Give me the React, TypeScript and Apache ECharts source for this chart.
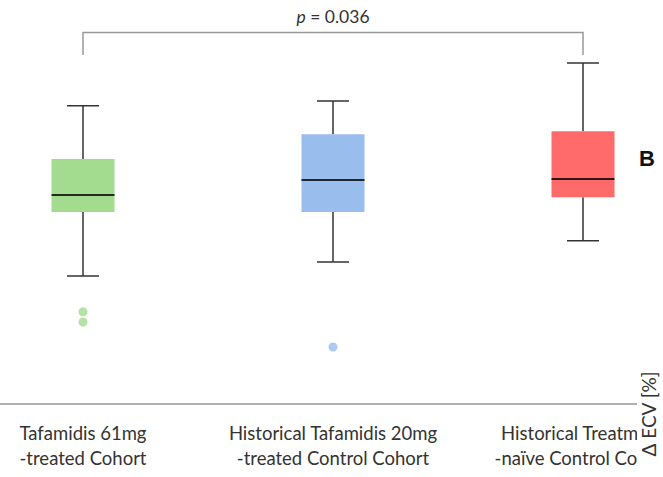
import React, { useEffect, useRef } from "react";
import * as echarts from "echarts";

const categories = [
  "Tafamidis 61mg\n-treated Cohort",
  "Historical Tafamidis 20mg\n-treated Control Cohort",
  "Historical Treatment\n-naïve Control Cohort",
];
const categoryIndex = [0, 1, 2];
const lowWhisker = [-0.88, -0.32, 0.53];
const q1 = [1.68, 1.68, 2.27];
const median = [2.36, 2.96, 3.0];
const q3 = [3.8, 4.79, 4.91];
const highWhisker = [5.93, 6.12, 7.64];
const outlierCat = [0, 0, 1];
const outlierVal = [-2.31, -2.72, -3.72];
const boxColors = ["#a3dc8f", "#99bdec", "#ff6b6b"];
const bracketFrom = 0;
const bracketTo = 2;
const bracketTop = 8.86;
const bracketLeg = 7.96;
const pText = "0.036";

export default function App() {
  const ref = useRef<HTMLDivElement>(null);
  useEffect(() => {
    const chart = echarts.init(ref.current!, null, { renderer: "svg" });
    const boxData = categoryIndex.map((i) => [i, lowWhisker[i], q1[i], median[i], q3[i], highWhisker[i]]);
    const option: any = {
      animation: false,
      grid: { left: 0, right: 0, top: 4, height: 400, containLabel: false, outerBoundsMode: "none" },
      xAxis: {
        type: "value",
        min: -0.332,
        max: 2.32,
        axisLine: { show: true, onZero: false, lineStyle: { color: "#b0b0b0", width: 2 } },
        axisTick: { show: false },
        splitLine: { show: false },
        axisLabel: {
          customValues: categoryIndex,
          formatter: (v: number) => categories[Math.round(v)],
          margin: 16,
          fontFamily: "Lato",
          fontSize: 18.5,
          lineHeight: 25,
          color: "#333",
        },
      },
      yAxis: { type: "value", min: -6, max: 10, show: false },
      series: [
        {
          type: "custom",
          data: boxData,
          encode: { x: 0, y: [1, 2, 3, 4, 5] },
          renderItem: (params: any, api: any) => {
            const i = api.value(0);
            const pLow = api.coord([i, api.value(1)]);
            const pQ1 = api.coord([i, api.value(2)]);
            const pMed = api.coord([i, api.value(3)]);
            const pQ3 = api.coord([i, api.value(4)]);
            const pHigh = api.coord([i, api.value(5)]);
            const cx = pMed[0];
            const halfBox = 31.5;
            const halfCap = 16;
            const wStyle = { stroke: "#333", lineWidth: 1.5 };
            return {
              type: "group",
              children: [
                { type: "line", shape: { x1: cx, y1: pHigh[1], x2: cx, y2: pQ3[1] }, style: wStyle },
                { type: "line", shape: { x1: cx, y1: pQ1[1], x2: cx, y2: pLow[1] }, style: wStyle },
                { type: "line", shape: { x1: cx - halfCap, y1: pHigh[1], x2: cx + halfCap, y2: pHigh[1] }, style: wStyle },
                { type: "line", shape: { x1: cx - halfCap, y1: pLow[1], x2: cx + halfCap, y2: pLow[1] }, style: wStyle },
                {
                  type: "rect",
                  shape: { x: cx - halfBox, y: pQ3[1], width: halfBox * 2, height: pQ1[1] - pQ3[1] },
                  style: { fill: boxColors[i] },
                },
                {
                  type: "line",
                  shape: { x1: cx - halfBox, y1: pMed[1], x2: cx + halfBox, y2: pMed[1] },
                  style: { stroke: "rgba(0,0,0,0.8)", lineWidth: 2 },
                },
              ],
            };
          },
        },
        {
          type: "scatter",
          symbolSize: 9,
          data: outlierCat.map((c, k) => ({
            value: [c, outlierVal[k]],
            itemStyle: { color: boxColors[c] },
          })),
        },
        {
          type: "custom",
          data: [[bracketFrom, bracketTo, bracketTop, bracketLeg]],
          encode: { x: [0, 1], y: [2, 3] },
          renderItem: (params: any, api: any) => {
            const a = api.coord([api.value(0), api.value(3)]);
            const b = api.coord([api.value(1), api.value(2)]);
            const top = b[1];
            const leg = a[1];
            return {
              type: "group",
              children: [
                {
                  type: "polyline",
                  shape: { points: [[a[0], leg], [a[0], top], [b[0], top], [b[0], leg]] },
                  style: { stroke: "#999", lineWidth: 1.5, fill: "none" },
                },
                {
                  type: "text",
                  style: {
                    x: (a[0] + b[0]) / 2,
                    y: top - 16,
                    text: "{i|p} = " + pText,
                    align: "center",
                    verticalAlign: "middle",
                    fontFamily: "Lato",
                    fontSize: 17.5,
                    fill: "#333",
                    rich: {
                      i: { fontStyle: "italic", fontFamily: "Lato", fontSize: 17.5, color: "#333" },
                    },
                  },
                },
              ],
            };
          },
        },
      ],
      graphic: [
        { type: "rect", z: 100, shape: { x: 637, y: 385, width: 40, height: 100 }, style: { fill: "#fff" } },
        {
          type: "text",
          z: 101,
          x: 648,
          y: 414,
          rotation: Math.PI / 2,
          style: {
            text: "Δ ECV [%]",
            align: "center",
            verticalAlign: "middle",
            fontFamily: "Lato",
            fontSize: 19,
            fill: "#333",
          },
        },
        {
          type: "text",
          z: 101,
          x: 647,
          y: 158,
          style: {
            text: "B",
            align: "center",
            verticalAlign: "middle",
            fontFamily: "Liberation Sans",
            fontWeight: "bold",
            fontSize: 22,
            fill: "#111",
          },
        },
      ],
    };
    chart.setOption(option);
    return () => chart.dispose();
  }, []);
  return (
    <div
      ref={ref}
      style={{ position: "absolute", left: 0, top: 0, width: 663, height: 477, background: "#fff" }}
    />
  );
}
